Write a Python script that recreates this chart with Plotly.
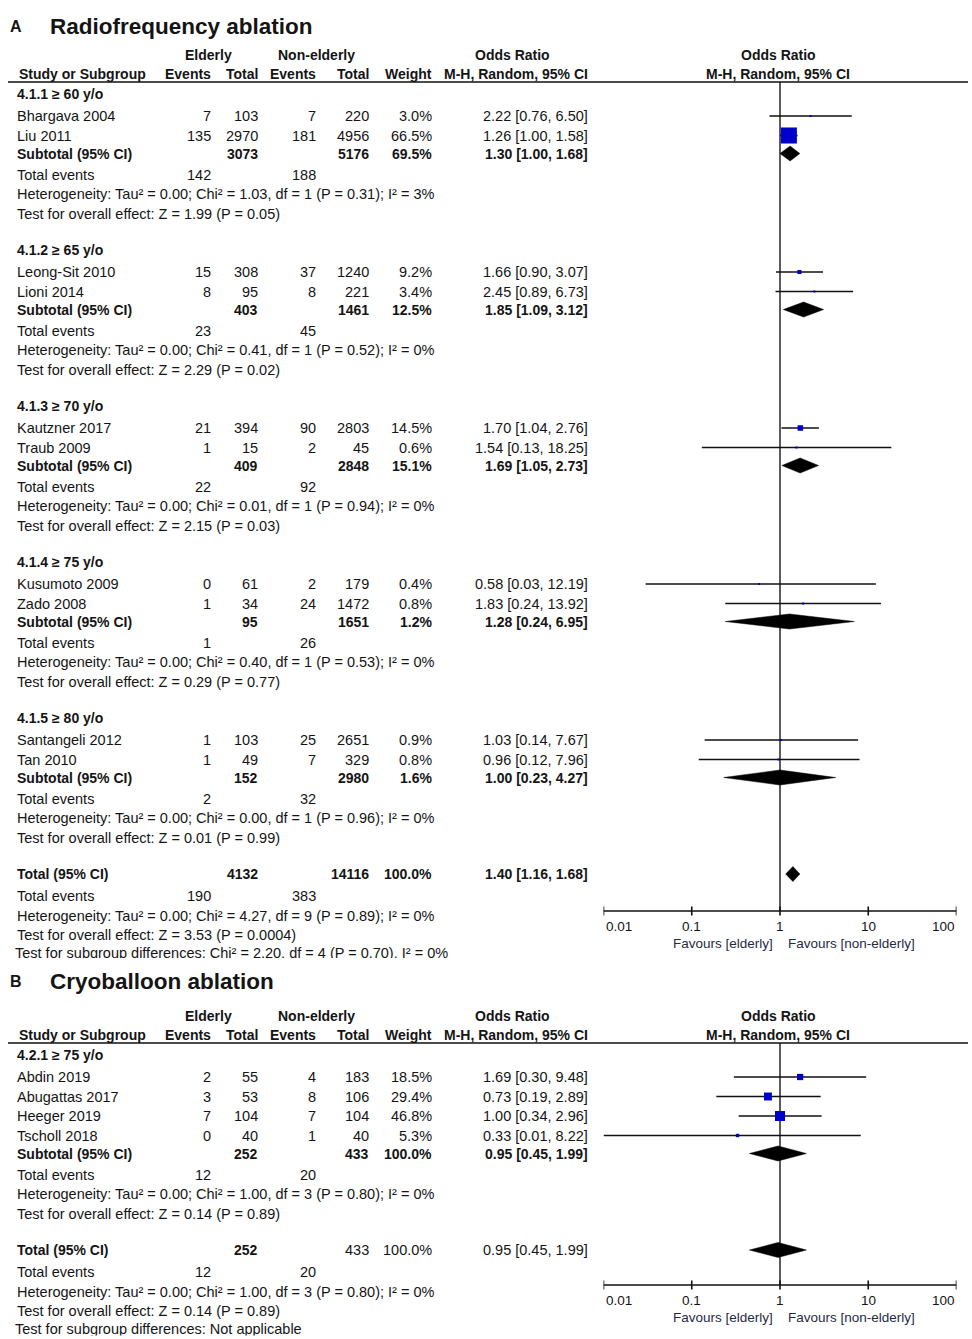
import math
import plotly.graph_objects as go

# ---------------- Panel A: Radiofrequency ablation ----------------
a_group_labels = ["4.1.1 ≥ 60 y/o", "4.1.2 ≥ 65 y/o", "4.1.3 ≥ 70 y/o", "4.1.4 ≥ 75 y/o", "4.1.5 ≥ 80 y/o"]
a_study_group = [0, 0, 1, 1, 2, 2, 3, 3, 4, 4]
a_studies = ["Bhargava 2004", "Liu 2011", "Leong-Sit 2010", "Lioni 2014", "Kautzner 2017",
             "Traub 2009", "Kusumoto 2009", "Zado 2008", "Santangeli 2012", "Tan 2010"]
a_eld_events = [7, 135, 15, 8, 21, 1, 0, 1, 1, 1]
a_eld_total = [103, 2970, 308, 95, 394, 15, 61, 34, 103, 49]
a_non_events = [7, 181, 37, 8, 90, 2, 2, 24, 25, 7]
a_non_total = [220, 4956, 1240, 221, 2803, 45, 179, 1472, 2651, 329]
a_weight = [3.0, 66.5, 9.2, 3.4, 14.5, 0.6, 0.4, 0.8, 0.9, 0.8]
a_or = [2.22, 1.26, 1.66, 2.45, 1.70, 1.54, 0.58, 1.83, 1.03, 0.96]
a_lo = [0.76, 1.00, 0.90, 0.89, 1.04, 0.13, 0.03, 0.24, 0.14, 0.12]
a_hi = [6.50, 1.58, 3.07, 6.73, 2.76, 18.25, 12.19, 13.92, 7.67, 7.96]

a_sub_eld_total = [3073, 403, 409, 95, 152]
a_sub_non_total = [5176, 1461, 2848, 1651, 2980]
a_sub_weight = [69.5, 12.5, 15.1, 1.2, 1.6]
a_sub_or = [1.30, 1.85, 1.69, 1.28, 1.00]
a_sub_lo = [1.00, 1.09, 1.05, 0.24, 0.23]
a_sub_hi = [1.68, 3.12, 2.73, 6.95, 4.27]
a_sub_eld_events = [142, 23, 22, 1, 2]
a_sub_non_events = [188, 45, 92, 26, 32]
a_sub_chi2 = ["1.03", "0.41", "0.01", "0.40", "0.00"]
a_sub_df = [1, 1, 1, 1, 1]
a_sub_p_het = ["0.31", "0.52", "0.94", "0.53", "0.96"]
a_sub_i2 = [3, 0, 0, 0, 0]
a_sub_z = ["1.99", "2.29", "2.15", "0.29", "0.01"]
a_sub_p_z = ["0.05", "0.02", "0.03", "0.77", "0.99"]

a_tot_eld_total = 4132
a_tot_non_total = 14116
a_tot_weight = 100.0
a_tot_or, a_tot_lo, a_tot_hi = 1.40, 1.16, 1.68
a_tot_eld_events, a_tot_non_events = 190, 383
a_tot_chi2, a_tot_df, a_tot_p_het, a_tot_i2 = "4.27", 9, "0.89", 0
a_tot_z, a_tot_p_z = "3.53", "0.0004"
a_subgroup_diff = "Test for subgroup differences: Chi² = 2.20, df = 4 (P = 0.70), I² = 0%"

# ---------------- Panel B: Cryoballoon ablation ----------------
b_group_labels = ["4.2.1 ≥ 75 y/o"]
b_study_group = [0, 0, 0, 0]
b_studies = ["Abdin 2019", "Abugattas 2017", "Heeger 2019", "Tscholl 2018"]
b_eld_events = [2, 3, 7, 0]
b_eld_total = [55, 53, 104, 40]
b_non_events = [4, 8, 7, 1]
b_non_total = [183, 106, 104, 40]
b_weight = [18.5, 29.4, 46.8, 5.3]
b_or = [1.69, 0.73, 1.00, 0.33]
b_lo = [0.30, 0.19, 0.34, 0.01]
b_hi = [9.48, 2.89, 2.96, 8.22]

b_sub_eld_total = [252]
b_sub_non_total = [433]
b_sub_weight = [100.0]
b_sub_or = [0.95]
b_sub_lo = [0.45]
b_sub_hi = [1.99]
b_sub_eld_events = [12]
b_sub_non_events = [20]
b_sub_chi2 = ["1.00"]
b_sub_df = [3]
b_sub_p_het = ["0.80"]
b_sub_i2 = [0]
b_sub_z = ["0.14"]
b_sub_p_z = ["0.89"]

b_tot_eld_total = 252
b_tot_non_total = 433
b_tot_weight = 100.0
b_tot_or, b_tot_lo, b_tot_hi = 0.95, 0.45, 1.99
b_tot_eld_events, b_tot_non_events = 12, 20
b_tot_chi2, b_tot_df, b_tot_p_het, b_tot_i2 = "1.00", 3, "0.80", 0
b_tot_z, b_tot_p_z = "0.14", "0.89"
b_subgroup_diff = "Test for subgroup differences: Not applicable"

axis_ticks = [0.01, 0.1, 1, 10, 100]
axis_tick_labels = ["0.01", "0.1", "1", "10", "100"]

# ---------------- styling / layout constants ----------------
W, H = 972, 1339
FONT = "Liberation Sans, Arial, Helvetica, sans-serif"
TEXT = "#141414"
BLUE = "#0000CC"
REG, BOLD, HDR = 14.5, 14, 14
X_STUDY = 15
X_EEV, X_ETOT, X_NEV, X_NTOT, X_W, X_CI = 213, 260, 318, 371, 434, 590

ann, shapes = [], []
ci_x, ci_y = [], []
sq_x, sq_y, sq_s = [], [], []
dm_x, dm_y = [], []
ref_x, ref_y = [], []
ax_x, ax_y = [], []
cut_text = []


def txt(x, y, s, anchor="left", size=REG, bold=False, xref="x", color=TEXT, xshift=0):
    if bold:
        s = "<b>" + s + "</b>"
    if xref == "x2":  # log axis: annotation positions are given in log10 units
        x = math.log10(x)
    ann.append(dict(x=x, y=y, xref=xref, yref="y", text=s, showarrow=False,
                    xanchor=anchor, yanchor="middle", xshift=xshift,
                    font=dict(family=FONT, size=size, color=color)))


def ci_str(o, l, h):
    return f"{o:.2f} [{l:.2f}, {h:.2f}]"


def diamond(y, o, l, h, half=7.5):
    dm_x.extend([l, o, h, o, l, None])
    dm_y.extend([y, y - half, y, y + half, y, None])


def header(title_letter, title, y_title, y1, y2, rule_y):
    txt(8, y_title, title_letter, bold=True, size=16)
    txt(48, y_title, title, bold=True, size=22.5)
    txt(208, y1, "Elderly", "center", HDR, True)
    txt(316, y1, "Non-elderly", "center", HDR, True)
    txt(512, y1, "Odds Ratio", "center", HDR, True)
    txt(778, y1, "Odds Ratio", "center", HDR, True)
    txt(17, y2, "Study or Subgroup", "left", HDR, True)
    for xx, lab in [(X_EEV, "Events"), (X_ETOT, "Total"), (X_NEV, "Events"),
                    (X_NTOT, "Total"), (X_W, "Weight"), (X_CI, "M-H, Random, 95% CI")]:
        txt(xx, y2, lab, "right", HDR, True)
    txt(778, y2, "M-H, Random, 95% CI", "center", HDR, True)
    shapes.append(dict(type="line", xref="x", yref="y", x0=8, x1=968, y0=rule_y, y1=rule_y,
                       line=dict(color="#111111", width=1.6)))


def axis(axis_y, top_y):
    ref_x.extend([1, 1, None])
    ref_y.extend([top_y, axis_y, None])
    ax_x.extend([axis_ticks[0], axis_ticks[-1], None])
    ax_y.extend([axis_y, axis_y, None])
    anchors = ["left"] + ["center"] * (len(axis_ticks) - 2) + ["right"]
    for t, lab, anc in zip(axis_ticks, axis_tick_labels, anchors):
        ax_x.extend([t, t, None])
        ax_y.extend([axis_y - 4.5, axis_y + 4.5, None])
        txt(t, axis_y + 15, lab, anc, 13.5, xref="x2")
    txt(1, axis_y + 32, "Favours [elderly]", "right", 13.5, xref="x2", xshift=-5, color="#1f2a44")
    txt(1, axis_y + 32, "Favours [non-elderly]", "left", 13.5, xref="x2", xshift=6, color="#1f2a44")


def panel(y_start, group_labels, study_group, studies, eev, etot, nev, ntot, wt, o, lo, hi,
          s_etot, s_ntot, s_w, s_or, s_lo, s_hi, s_eev, s_nev, s_chi2, s_df, s_phet, s_i2, s_z, s_pz,
          t_etot, t_ntot, t_w, t_or, t_lo, t_hi, t_eev, t_nev, t_chi2, t_df, t_phet, t_i2, t_z, t_pz,
          diff_text, size_fn, total_bold_all, sub_gap_after=36.5):
    y = y_start
    for g, glab in enumerate(group_labels):
        txt(X_STUDY, y, glab, bold=True, size=BOLD)
        idx = [i for i, sg in enumerate(study_group) if sg == g]
        y += 22
        for k, i in enumerate(idx):
            if k > 0:
                y += 19.5
            txt(X_STUDY, y, studies[i])
            txt(X_EEV, y, str(eev[i]), "right")
            txt(X_ETOT, y, str(etot[i]), "right")
            txt(X_NEV, y, str(nev[i]), "right")
            txt(X_NTOT, y, str(ntot[i]), "right")
            txt(X_W, y, f"{wt[i]:.1f}%", "right")
            txt(X_CI, y, ci_str(o[i], lo[i], hi[i]), "right")
            ci_x.extend([lo[i], hi[i], None])
            ci_y.extend([y, y, None])
            sq_x.append(o[i])
            sq_y.append(y)
            sq_s.append(size_fn(wt[i]))
        y += 18
        txt(X_STUDY, y, "Subtotal (95% CI)", bold=True, size=BOLD)
        txt(X_ETOT, y, str(s_etot[g]), "right", BOLD, True)
        txt(X_NTOT, y, str(s_ntot[g]), "right", BOLD, True)
        txt(X_W, y, f"{s_w[g]:.1f}%", "right", BOLD, True)
        txt(X_CI, y, ci_str(s_or[g], s_lo[g], s_hi[g]), "right", BOLD, True)
        diamond(y, s_or[g], s_lo[g], s_hi[g])
        y += 21
        txt(X_STUDY, y, "Total events")
        txt(X_EEV, y, str(s_eev[g]), "right")
        txt(X_NEV, y, str(s_nev[g]), "right")
        y += 19.5
        txt(X_STUDY, y, f"Heterogeneity: Tau² = 0.00; Chi² = {s_chi2[g]}, df = {s_df[g]} "
                        f"(P = {s_phet[g]}); I² = {s_i2[g]}%")
        y += 19.5
        txt(X_STUDY, y, f"Test for overall effect: Z = {s_z[g]} (P = {s_pz[g]})")
        y += sub_gap_after
    # overall total
    txt(X_STUDY, y, "Total (95% CI)", bold=True, size=BOLD)
    txt(X_ETOT, y, str(t_etot), "right", BOLD, True)
    if total_bold_all:
        txt(X_NTOT, y, str(t_ntot), "right", BOLD, True)
        txt(X_W, y, f"{t_w:.1f}%", "right", BOLD, True)
        txt(X_CI, y, ci_str(t_or, t_lo, t_hi), "right", BOLD, True)
    else:
        txt(X_NTOT, y, str(t_ntot), "right")
        txt(X_W, y, f"{t_w:.1f}%", "right")
        txt(X_CI, y, ci_str(t_or, t_lo, t_hi), "right")
    diamond(y, t_or, t_lo, t_hi)
    y += 22
    txt(X_STUDY, y, "Total events")
    txt(X_EEV, y, str(t_eev), "right")
    txt(X_NEV, y, str(t_nev), "right")
    y += 19.5
    txt(X_STUDY, y, f"Heterogeneity: Tau² = 0.00; Chi² = {t_chi2}, df = {t_df} "
                    f"(P = {t_phet}); I² = {t_i2}%")
    y += 19.5
    txt(X_STUDY, y, f"Test for overall effect: Z = {t_z} (P = {t_pz})")
    y += 19.5
    cut_text.append((X_STUDY, y, diff_text))


# ---- Panel A ----
header("A", "Radiofrequency ablation", 26, 55, 74, 82)
panel(94, a_group_labels, a_study_group, a_studies, a_eld_events, a_eld_total, a_non_events,
      a_non_total, a_weight, a_or, a_lo, a_hi,
      a_sub_eld_total, a_sub_non_total, a_sub_weight, a_sub_or, a_sub_lo, a_sub_hi,
      a_sub_eld_events, a_sub_non_events, a_sub_chi2, a_sub_df, a_sub_p_het, a_sub_i2,
      a_sub_z, a_sub_p_z,
      a_tot_eld_total, a_tot_non_total, a_tot_weight, a_tot_or, a_tot_lo, a_tot_hi,
      a_tot_eld_events, a_tot_non_events, a_tot_chi2, a_tot_df, a_tot_p_het, a_tot_i2,
      a_tot_z, a_tot_p_z, a_subgroup_diff,
      lambda w: max(2.0, 0.85 * w ** 0.7), True)
axis(911, 82)

# ---- Panel B ----
header("B", "Cryoballoon ablation", 981, 1016, 1035, 1043)
panel(1055, b_group_labels, b_study_group, b_studies, b_eld_events, b_eld_total, b_non_events,
      b_non_total, b_weight, b_or, b_lo, b_hi,
      b_sub_eld_total, b_sub_non_total, b_sub_weight, b_sub_or, b_sub_lo, b_sub_hi,
      b_sub_eld_events, b_sub_non_events, b_sub_chi2, b_sub_df, b_sub_p_het, b_sub_i2,
      b_sub_z, b_sub_p_z,
      b_tot_eld_total, b_tot_non_total, b_tot_weight, b_tot_or, b_tot_lo, b_tot_hi,
      b_tot_eld_events, b_tot_non_events, b_tot_chi2, b_tot_df, b_tot_p_het, b_tot_i2,
      b_tot_z, b_tot_p_z, b_subgroup_diff,
      lambda w: max(2.0, 1.46 * w ** 0.5), False)
axis(1285, 1043)

fig = go.Figure()
fig.add_trace(go.Scatter(x=ref_x, y=ref_y, xaxis="x2", yaxis="y", mode="lines",
                         line=dict(color="#333333", width=1.6), hoverinfo="skip", cliponaxis=False))
fig.add_trace(go.Scatter(x=ax_x, y=ax_y, xaxis="x2", yaxis="y", mode="lines",
                         line=dict(color="#111111", width=1.6), hoverinfo="skip", cliponaxis=False))
fig.add_trace(go.Scatter(x=ci_x, y=ci_y, xaxis="x2", yaxis="y", mode="lines",
                         line=dict(color="#111111", width=1.4), hoverinfo="skip", cliponaxis=False))
fig.add_trace(go.Scatter(x=sq_x, y=sq_y, xaxis="x2", yaxis="y", mode="markers",
                         marker=dict(symbol="square", size=sq_s, color=BLUE, opacity=1,
                                     line=dict(width=0)),
                         cliponaxis=False))
fig.add_trace(go.Scatter(x=dm_x, y=dm_y, xaxis="x2", yaxis="y", mode="lines", fill="toself",
                         fillcolor="#000000", line=dict(color="#000000", width=0.5),
                         hoverinfo="skip", cliponaxis=False))
for (cx, cy, ct) in cut_text:
    fig.add_trace(go.Scatter(x=[cx], y=[cy], xaxis="x", yaxis="y", mode="text", text=[ct],
                             textposition="middle right",
                             textfont=dict(family=FONT, size=REG, color=TEXT), hoverinfo="skip",
                             cliponaxis=False))
# partially hidden bottom lines (cut off in the source image)
shapes.append(dict(type="rect", xref="x", yref="y", x0=0, x1=600, y0=958, y1=967,
                   fillcolor="white", line=dict(width=0), layer="above"))
shapes.append(dict(type="rect", xref="x", yref="y", x0=0, x1=600, y0=1335.5, y1=1339,
                   fillcolor="white", line=dict(width=0), layer="above"))

fig.update_layout(
    width=W, height=H, margin=dict(l=0, r=0, t=0, b=0),
    paper_bgcolor="white", plot_bgcolor="rgba(0,0,0,0)", showlegend=False,
    xaxis=dict(range=[0, W], domain=[0, 1], visible=False, anchor="y"),
    xaxis2=dict(type="log", range=[-2, 2], domain=[603.5 / W, 956.5 / W], visible=False, anchor="y"),
    yaxis=dict(range=[H, 0], domain=[0, 1], visible=False),
    annotations=ann, shapes=shapes,
)
fig.write_html("out.html", config={"displayModeBar": False},
               post_script="document.body.style.margin='0px';document.body.style.overflow='hidden';")
